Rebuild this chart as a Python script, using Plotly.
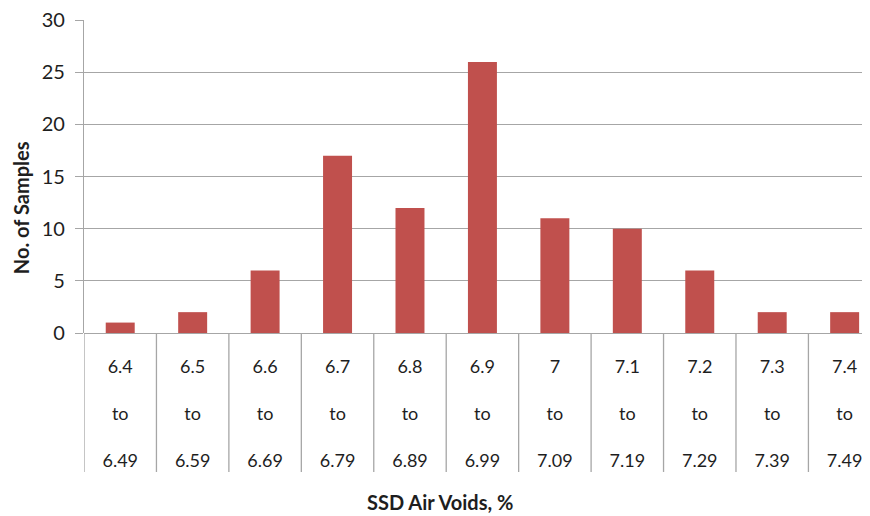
import plotly.graph_objects as go

categories = ["6.4 to 6.49", "6.5 to 6.59", "6.6 to 6.69", "6.7 to 6.79", "6.8 to 6.89",
              "6.9 to 6.99", "7 to 7.09", "7.1 to 7.19", "7.2 to 7.29", "7.3 to 7.39", "7.4 to 7.49"]
tick_labels = ["6.4<br><br>to<br><br>6.49", "6.5<br><br>to<br><br>6.59", "6.6<br><br>to<br><br>6.69",
               "6.7<br><br>to<br><br>6.79", "6.8<br><br>to<br><br>6.89", "6.9<br><br>to<br><br>6.99",
               "7<br><br>to<br><br>7.09", "7.1<br><br>to<br><br>7.19", "7.2<br><br>to<br><br>7.29",
               "7.3<br><br>to<br><br>7.39", "7.4<br><br>to<br><br>7.49"]
samples = [1, 2, 6, 17, 12, 26, 11, 10, 6, 2, 2]
y_ticks = [0, 5, 10, 15, 20, 25, 30]

FONT = "Lato, 'Open Sans', sans-serif"
GRID = "#a6a6a6"
n = len(categories)
xs = list(range(n))

fig = go.Figure()
fig.add_trace(go.Bar(x=xs, y=samples, marker=dict(color="#c0504d", line=dict(width=0)),
                     width=0.4, showlegend=False))

shapes = []
for i in range(n + 1):
    shapes.append(dict(type="line", xref="x", yref="paper", x0=i - 0.5, x1=i - 0.5,
                       y0=0, y1=-0.444, line=dict(color=GRID, width=1.3), layer="below"))

# the page body has an 8px margin, so the figure is sized 8px smaller in each direction
fig.update_layout(
    width=862, height=508,
    margin=dict(l=76, r=0, t=12, b=183),
    paper_bgcolor="white", plot_bgcolor="white",
    font=dict(family=FONT, size=18, color="#1e1e1e"),
    shapes=shapes,
    xaxis=dict(range=[-0.5, 10.35], tickvals=xs, ticktext=tick_labels, showgrid=False,
               zeroline=False, showline=False, ticks="", tickfont=dict(size=18),
               ticklabelstandoff=21, automargin=False, fixedrange=True),
    yaxis=dict(range=[0, 30.02], tickvals=y_ticks, showgrid=True, gridcolor=GRID, gridwidth=1.3,
               zeroline=True, zerolinecolor=GRID, zerolinewidth=1.3,
               showline=True, linecolor=GRID, linewidth=1.3,
               ticks="outside", ticklen=8, tickcolor=GRID, tickwidth=1.3,
               tickfont=dict(size=20), ticklabelstandoff=6, automargin=False,
               ticklabeloverflow="allow"),
    annotations=[
        dict(text="<b>SSD Air Voids, %</b>", xref="paper", yref="paper", x=0.453, y=-0.54,
             xanchor="center", yanchor="middle", showarrow=False, font=dict(size=20)),
        dict(text="<b>No. of Samples</b>", xref="paper", yref="paper", x=-0.081, y=0.40,
             xanchor="center", yanchor="middle", textangle=-90, showarrow=False,
             font=dict(size=20)),
    ],
)

fig.write_html("out.html")
